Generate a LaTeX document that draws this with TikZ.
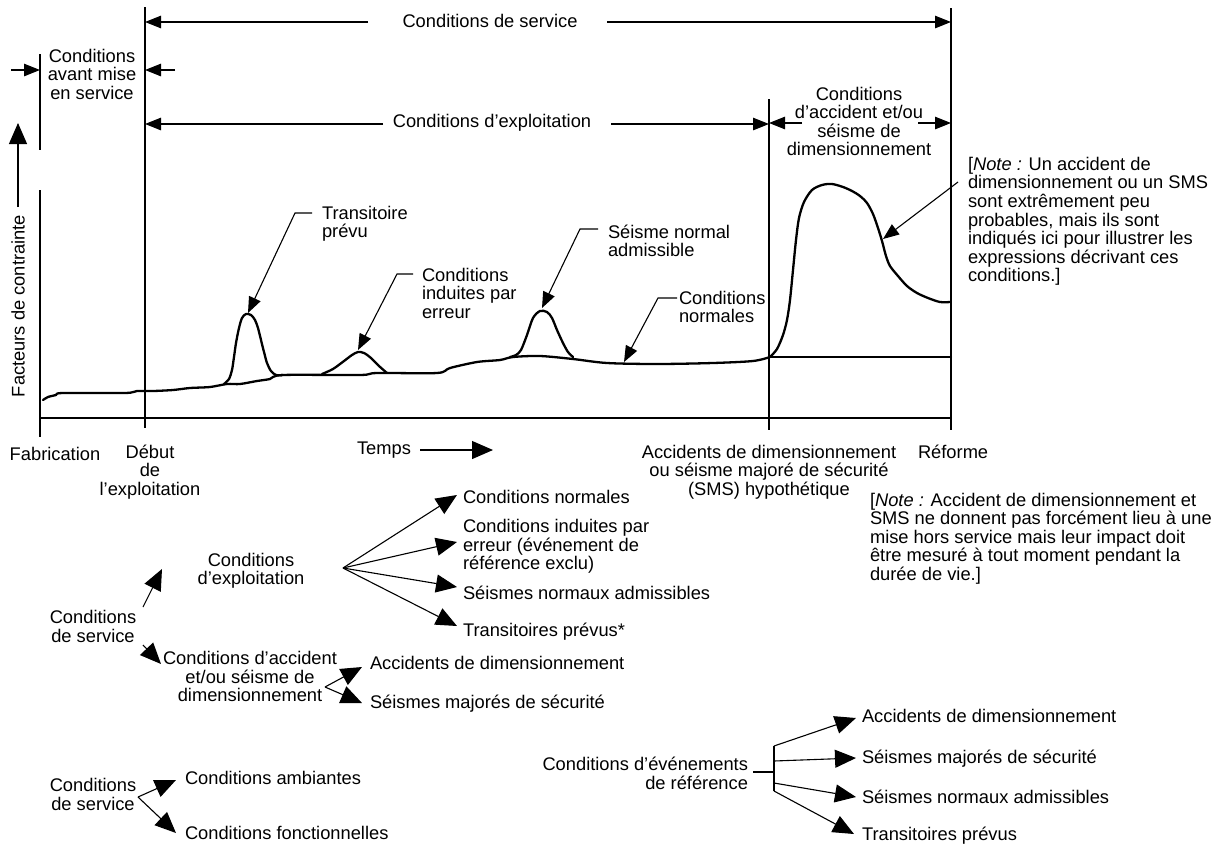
\documentclass[tikz,border=0pt]{standalone}
\usepackage{fontspec}
\setmainfont{Liberation Sans}
\usetikzlibrary{arrows.meta}
\begin{document}
\begin{tikzpicture}[x=1pt,y=-1pt,
  txt/.style={inner sep=0pt,outer sep=0pt,font=\fontsize{18.3}{18.5}\selectfont},
  fine/.style={line width=1.1pt},
  curve/.style={line width=2.3pt,line join=round,line cap=round},
  sarr/.style={fine,-{Triangle[length=16pt,width=12.5pt]}},
  barr/.style={fine,-{Triangle[length=21pt,width=18pt]}}]
\useasboundingbox (0,0) rectangle (1213,847);

% ---------- frame lines ----------
\coordinate (v40t) at (40,54);  \coordinate (v40m) at (40,150);
\coordinate (ytop) at (40,190); \coordinate (org) at (40,418); \coordinate (xend) at (951,418);
\coordinate (v40b) at (40,437);
\coordinate (v145t) at (145,7);  \coordinate (v145b) at (145,428);
\coordinate (v769t) at (769,99); \coordinate (v769b) at (769,430);
\coordinate (v951t) at (951,8);  \coordinate (v951b) at (951,430);
\draw[fine] (v40t) -- (v40m);
\draw[line width=2.5pt] (ytop) -- (org) -- (xend);
\draw[fine] (org) -- (v40b);
\draw[fine] (v145t) -- (v145b);
\draw[fine] (v769t) -- (v769b);
\draw[fine] (v951t) -- (v951b);

% ---------- dimension rows ----------
\node[txt] (svc) at (490,21) {Conditions de service};
\coordinate (svcA) at (368,22); \coordinate (svcB) at (607,22);
\coordinate (svcL) at (145,22); \coordinate (svcR) at (951,22);
\draw[sarr] (svcA) -- (svcL);
\draw[sarr] (svcB) -- (svcR);

\node[txt,align=center,anchor=north] (avant) at (92,49) {Conditions\\avant mise\\en service};
\coordinate (avA) at (11,70); \coordinate (avL) at (40,70);
\coordinate (avB) at (175,70); \coordinate (avR) at (145,70);
\draw[sarr] (avA) -- (avL);
\draw[sarr] (avB) -- (avR);

\node[txt] (expl) at (492,123) {Conditions d’exploitation};
\coordinate (exA) at (383,124); \coordinate (exB) at (611,124);
\coordinate (exL) at (145,124); \coordinate (exR) at (769,124);
\draw[sarr] (exA) -- (exL);
\draw[sarr] (exB) -- (exR);

\node[txt,align=center,anchor=north] (acc) at (859,87) {Conditions\\d’accident et/ou\\séisme de\\dimensionnement};
\coordinate (acA) at (802,123); \coordinate (acL) at (769,123);
\coordinate (acB) at (918,123); \coordinate (acR) at (951,123);
\draw[sarr] (acA) -- (acL);
\draw[sarr] (acB) -- (acR);

\node[txt,align=left,anchor=north west,font=\fontsize{18.3}{18.6}\selectfont] (note1) at (968,157)
 {[\textit{Note :} Un accident de\\dimensionnement ou un SMS\\sont extrêmement peu\\probables, mais ils sont\\indiqués ici pour illustrer les\\expressions décrivant ces\\conditions.]};

% ---------- y label ----------
\node[txt,rotate=90] (ylab) at (18,306) {Facteurs de contrainte};
\coordinate (yA) at (18,207); \coordinate (yB) at (18,123);
\draw[barr] (yA) -- (yB);

% ---------- curves ----------
\draw[curve] plot[smooth,tension=0.5] coordinates {(43,400) (48,397) (56,395) (63,393) (125,393) (137,391) (153,391) (173,390) (190,388) (210,387) (227,384) (240,384) (257,381) (270,379) (283,375) (360,375) (377,373) (437,373) (450,368) (477,362) (500,360) (513,357) (540,356) (573,359) (607,363) (657,364) (713,363) (753,361) (770,357)};
\coordinate (hA) at (770,357); \coordinate (hB) at (951,357);
\draw[curve] (hA) -- (hB);
\draw[curve] plot[smooth,tension=0.5] coordinates {(224,384) (229,379) (232,370) (234,357) (236,343) (239,328) (242,318) (246,314) (251,315) (255,320) (258,328) (261,340) (264,352) (267,363) (271,371) (276,375) (283,375)};
\draw[curve] plot[smooth,tension=0.5] coordinates {(322,374) (333,369) (344,361) (352,355) (358,352) (364,353) (371,358) (379,366) (387,373)};
\draw[curve] plot[smooth,tension=0.5] coordinates {(510,357) (516,355) (521,350) (527,335) (533,318) (540,311) (547,312) (552,318) (557,330) (563,343) (568,352) (573,357)};
\draw[curve] plot[smooth,tension=0.5] coordinates {(770,357) (777,349) (783,335) (787,320) (790,300) (793,270) (796,240) (799,218) (804,202) (812,190) (822,185) (832,184) (843,187) (852,191) (860,196) (867,203) (873,214) (878,228) (882,241) (886,256) (890,266) (898,276) (907,286) (917,293) (928,298) (940,302) (950,302)};

% ---------- leaders ----------
\node[txt,align=left,anchor=north west] (ltrans) at (322,206) {Transitoire\\prévu};
\coordinate (l1a) at (312,213); \coordinate (l1b) at (295,213); \coordinate (l1t) at (248,313);
\draw[sarr] (l1a) -- (l1b) -- (l1t);

\node[txt,align=left,anchor=north west] (lind) at (422,268) {Conditions\\induites par\\erreur};
\coordinate (l2a) at (413,274); \coordinate (l2b) at (397,274); \coordinate (l2t) at (358,350);
\draw[sarr] (l2a) -- (l2b) -- (l2t);

\node[txt,align=left,anchor=north west] (lseis) at (608,225) {Séisme normal\\admissible};
\coordinate (l3a) at (598,229); \coordinate (l3b) at (580,229); \coordinate (l3t) at (542,308);
\draw[sarr] (l3a) -- (l3b) -- (l3t);

\node[txt,align=left,anchor=north west] (lnorm) at (679,291) {Conditions\\normales};
\coordinate (l4a) at (677,298); \coordinate (l4b) at (658,298); \coordinate (l4t) at (624,362);
\draw[sarr] (l4a) -- (l4b) -- (l4t);

\coordinate (l5a) at (958,182); \coordinate (l5t) at (883,239);
\draw[sarr] (l5a) -- (l5t);

% ---------- axis labels ----------
\node[txt,anchor=north] (fab) at (55,447) {Fabrication};
\node[txt,align=center,anchor=north] (debut) at (150,445) {Début\\de\\l’exploitation};
\node[txt,anchor=north west] (temps) at (357,442) {Temps};
\coordinate (tA) at (420,450); \coordinate (tB) at (493,450);
\draw[barr] (tA) -- (tB);
\node[txt,align=center,anchor=north] (dba) at (769,445) {Accidents de dimensionnement\\ou séisme majoré de sécurité\\(SMS) hypothétique};
\node[txt,anchor=north west] (reforme) at (918,445) {Réforme};
\node[txt,align=left,anchor=north west] (note2) at (870,493)
 {[\textit{Note :} Accident de dimensionnement et\\SMS ne donnent pas forcément lieu à une\\mise hors service mais leur impact doit\\être mesuré à tout moment pendant la\\durée de vie.]};

% ---------- tree 1 ----------
\node[txt,align=center,anchor=north] (t1exp) at (251,553) {Conditions\\d’exploitation};
\coordinate (j1) at (343,568);
\node[txt,anchor=north west] (a1) at (463,490.5) {Conditions normales};
\node[txt,align=left,anchor=north west] (a2) at (463,519.5) {Conditions induites par\\erreur (événement de\\référence exclu)};
\node[txt,anchor=north west] (a3) at (463,586.5) {Séismes normaux admissibles};
\node[txt,anchor=north west] (a4) at (463,623.5) {Transitoires prévus*};
\coordinate (a1t) at (457,495); \coordinate (a2t) at (457,542);
\coordinate (a3t) at (457,587); \coordinate (a4t) at (457,626);
\draw[barr] (j1) -- (a1t);
\draw[barr] (j1) -- (a2t);
\draw[barr] (j1) -- (a3t);
\draw[barr] (j1) -- (a4t);

\node[txt,align=center,anchor=north] (t1svc) at (93,610.5) {Conditions\\de service};
\coordinate (s1a) at (143,607); \coordinate (s1t) at (162,569);
\coordinate (s2a) at (143,645); \coordinate (s2t) at (161,664);
\draw[barr] (s1a) -- (s1t);
\draw[barr] (s2a) -- (s2t);

\node[txt,align=center,anchor=north] (t1acc) at (250,651.5) {Conditions d’accident\\et/ou séisme de\\dimensionnement};
\coordinate (j2) at (325,687);
\node[txt,anchor=north west] (b1) at (370,656.5) {Accidents de dimensionnement};
\node[txt,anchor=north west] (b2) at (370,695.5) {Séismes majorés de sécurité};
\coordinate (b1t) at (362,667); \coordinate (b2t) at (362,703);
\draw[barr] (j2) -- (b1t);
\draw[barr] (j2) -- (b2t);

% ---------- tree 3 ----------
\node[txt,align=center,anchor=north] (t3svc) at (93,778.5) {Conditions\\de service};
\coordinate (j3) at (138,797);
\node[txt,anchor=north west] (c1) at (185,771.5) {Conditions ambiantes};
\node[txt,anchor=north west] (c2) at (185,826.5) {Conditions fonctionnelles};
\coordinate (c1t) at (176,780); \coordinate (c2t) at (176,833);
\draw[barr] (j3) -- (c1t);
\draw[barr] (j3) -- (c2t);

% ---------- tree 2 ----------
\node[txt,align=right,anchor=north east] (t2) at (748,757.5) {Conditions d’événements\\de référence};
\coordinate (st0) at (753,772); \coordinate (st1) at (774,772);
\coordinate (jt) at (774,746); \coordinate (jb) at (774,791);
\coordinate (j4b) at (774,761); \coordinate (j4c) at (774,783);
\draw[fine] (st0) -- (st1);
\draw[fine] (jt) -- (jb);
\node[txt,anchor=north west] (d1) at (862,709.5) {Accidents de dimensionnement};
\node[txt,anchor=north west] (d2) at (862,750.5) {Séismes majorés de sécurité};
\node[txt,anchor=north west] (d3) at (862,790.5) {Séismes normaux admissibles};
\node[txt,anchor=north west] (d4) at (862,827.5) {Transitoires prévus};
\coordinate (d1t) at (856,718); \coordinate (d2t) at (856,758);
\coordinate (d3t) at (856,797); \coordinate (d4t) at (854,834);
\draw[barr] (jt) -- (d1t);
\draw[barr] (j4b) -- (d2t);
\draw[barr] (j4c) -- (d3t);
\draw[barr] (jb) -- (d4t);
\end{tikzpicture}
\end{document}
